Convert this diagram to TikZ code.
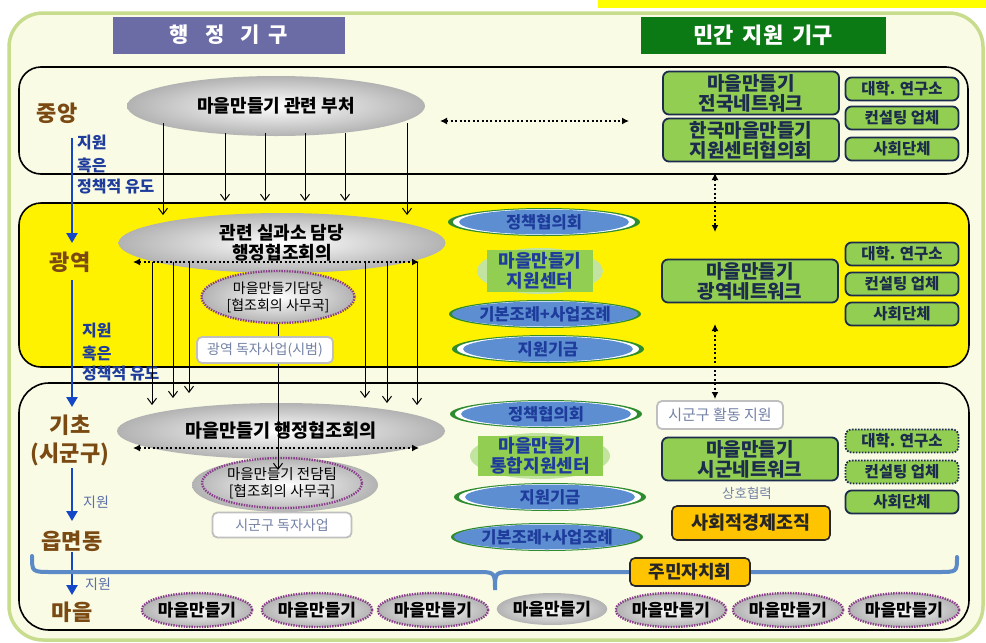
\documentclass[tikz,border=0pt]{standalone}
\usepackage{fontspec}
\setmainfont{Noto Sans CJK KR}
\usetikzlibrary{arrows.meta,shapes.geometric}
\definecolor{bgc}{HTML}{F9FBE4}
\definecolor{bgborder}{HTML}{C8DC8E}
\definecolor{hpurple}{HTML}{6B6BA6}
\definecolor{hgreen}{HTML}{0C7A14}
\definecolor{lbrown}{HTML}{7A4A12}
\definecolor{abblue}{HTML}{1446C8}
\definecolor{tblue}{HTML}{1E3C9C}
\definecolor{sblue}{HTML}{5A6EA8}
\definecolor{pur}{HTML}{8A3C8C}
\definecolor{egreen}{HTML}{2E8B2E}
\definecolor{eblue}{HTML}{5E8ED2}
\definecolor{boxgreen}{HTML}{92CE52}
\definecolor{navy}{HTML}{1C2C4C}
\definecolor{gold}{HTML}{FFC400}
\definecolor{gtext}{HTML}{7482A6}
\definecolor{bracec}{HTML}{5C8AC6}
\definecolor{topyel}{HTML}{FFFF00}
\newcommand\fsz[2]{\fontsize{#1}{#2}\selectfont}
\newcommand\BEll[3]{%
  \node[ellipse, fill=egreen, minimum width=192pt, minimum height=28pt, inner sep=0pt] (#1o) at #2 {};
  \node[ellipse, fill=white, minimum width=182pt, minimum height=26pt, inner sep=0pt] (#1w) at #2 {};
  \node[ellipse, fill=eblue, minimum width=170pt, minimum height=25pt, inner sep=0pt,
        font=\bfseries\fsz{16.5}{18}, text=tblue] (#1) at #2 {#3};}
\begin{document}
\begin{tikzpicture}[x=1pt,y=-1pt,
  lvl/.style={font=\bfseries\fsz{22}{24}, text=lbrown, inner sep=0pt},
  btxt/.style={font=\bfseries\fsz{16}{18}, text=tblue, anchor=west, inner sep=0pt},
  stxt/.style={font=\fsz{14}{16}, text=sblue, anchor=west, inner sep=0pt},
  barr/.style={draw=abblue, line width=2.6pt, -{Triangle[length=10pt,width=11pt]}},
  gell/.style={ellipse, shading=radial, inner color=white, outer color=black!30, inner sep=0pt},
  pell/.style={ellipse, draw=pur, line width=2.4pt, dash pattern=on 1.4pt off 1.2pt, inner sep=0pt},
  karr/.style={line width=1pt, -{Straight Barb[length=6pt,width=9pt]}},
  darr/.style={line width=2.2pt, dash pattern=on 2pt off 2.4pt,
     {Latex[length=7pt,width=7pt]}-{Latex[length=7pt,width=7pt]}},
  gbox/.style={draw=navy, line width=1.8pt, fill=boxgreen, rounded corners=6pt,
     font=\bfseries\fsz{19}{20}, text=navy, align=center, inner sep=0pt},
  sbox/.style={gbox, font=\bfseries\fsz{15.5}{17}, minimum width=113pt, minimum height=23pt},
  wbox/.style={draw=black!25, line width=1.8pt, fill=white, rounded corners=5pt,
     text=gtext, font=\fsz{14}{16}, inner sep=0pt},
  goldbox/.style={draw=black!85, line width=1.6pt, fill=gold, rounded corners=5pt,
     font=\bfseries\fsz{18.5}{20}, text=black!85, inner sep=0pt},
  ctrbox/.style={fill=boxgreen, font=\bfseries\fsz{18}{20}, text=tblue, align=center, inner sep=0pt},
  vtxt/.style={font=\bfseries\fsz{17}{19}, text=black, inner sep=0pt}
]
\useasboundingbox (0,0) rectangle (986,643);
\fill[white] (0,0) rectangle (986,643);
\fill[topyel] (598,0) rectangle (986,8);
% background
\draw[draw=bgborder, line width=3.5pt, fill=bgc, rounded corners=34pt] (9,13) rectangle (983,640);
% headers
\node[fill=hpurple, minimum width=232pt, minimum height=37pt, text=white, font=\bfseries\fsz{21}{23}] (hdrA) at (229,35) {행\hspace{16pt}정\hspace{16pt}기\hspace{9pt}구};
\node[fill=hgreen, minimum width=245pt, minimum height=37pt, text=white, font=\bfseries\fsz{22}{24}] (hdrB) at (763,35) {민간\hspace{9pt}지원\hspace{9pt}기구};
% bands
\draw[line width=1.6pt, rounded corners=22pt] (19,67) rectangle (968,174);
\draw[line width=1.6pt, fill=yellow, rounded corners=22pt] (19,203) rectangle (969,367);
\draw[line width=1.6pt, rounded corners=30pt] (19,383) rectangle (969,630);

% left level labels
\node[lvl] (Lc) at (57,113) {중앙};
\node[lvl] (Lg) at (70,262) {광역};
\node[lvl] (Lk1) at (70,425) {기초};
\node[lvl] (Lk2) at (70,454) {(시군구)};
\node[lvl] (Le) at (72,541) {읍면동};
\node[lvl] (Lm) at (72,612) {마을};
\coordinate (ba1) at (72,138); \coordinate (bb1) at (72,243);
\coordinate (ba2) at (72,280); \coordinate (bb2) at (72,407);
\coordinate (ba3) at (72,468); \coordinate (bb3) at (72,521);
\coordinate (ba4) at (72,552); \coordinate (bb4) at (72,595);
\draw[barr] (ba1) -- (bb1);
\draw[barr] (ba2) -- (bb2);
\draw[barr] (ba3) -- (bb3);
\draw[barr] (ba4) -- (bb4);
\node[btxt] (t1a) at (77,143) {지원};
\node[btxt] (t1b) at (77,165) {혹은};
\node[btxt] (t1c) at (77,187) {정책적 유도};
\node[btxt] (t2a) at (82,331) {지원};
\node[btxt] (t2b) at (82,353) {혹은};
\node[btxt] (t2c) at (82,374) {정책적 유도};
\node[stxt] (t3) at (83,502) {지원};
\node[stxt] (t4) at (85,584) {지원};

% administrative ellipses
\node[gell, minimum width=298pt, minimum height=60pt, vtxt, font=\bfseries\fsz{18}{20}] (bucheo) at (276,106) {마을만들기 관련 부처};
\node[gell, minimum width=327pt, minimum height=60pt, font=\bfseries\fsz{18}{20}, align=center] (silgwa) at (282,243) {관련 실과소 담당\\행정협조회의};
\node[gell, pell, minimum width=153pt, minimum height=52pt, font=\fsz{14}{17}, align=center] (samu1) at (278,297) {마을만들기담당\\{[}협조회의 사무국{]}};
\node[gell, minimum width=328pt, minimum height=56pt, font=\bfseries\fsz{18.5}{21}] (haengjeong) at (281,431) {마을만들기 행정협조회의};
\node[gell, minimum width=186pt, minimum height=54pt] (jeondamg) at (285,485) {};
\node[pell, minimum width=160pt, minimum height=50pt, font=\fsz{14.5}{16.5}, align=center] (jeondam) at (282,483) {마을만들기 전담팀\\{[}협조회의 사무국{]}};

% arrows from 부처
\foreach \x/\ys/\ye [count=\i] in {163/123/215, 225/133/201, 265/133/201, 305/133/201, 345/133/201, 407/123/215}{
  \coordinate (ua\i) at (\x,\ys); \coordinate (ub\i) at (\x,\ye);
  \draw[karr] (ua\i) -- (ub\i);
}
% arrows from 광역 to 기초
\foreach \x/\ye [count=\i] in {152/405, 173/398, 189/393, 365/398, 387/403, 417/405}{
  \coordinate (ma\i) at (\x,262); \coordinate (mb\i) at (\x,\ye);
  \draw[karr] (ma\i) -- (mb\i);
}
\coordinate (samuEnd) at (278,470);
\draw[karr] (samu1.south) -- (samuEnd);
% dotted double arrows inside ellipses
\coordinate (dl1) at (133,262); \coordinate (dr1) at (419,262);
\draw[darr] (dl1) -- (dr1);
\coordinate (dl2) at (133,448); \coordinate (dr2) at (419,448);
\draw[darr] (dl2) -- (dr2);

% white boxes
\node[wbox, minimum width=136pt, minimum height=26pt] (dokja1) at (265,350) {광역 독자사업(시범)};
\node[wbox, minimum width=139pt, minimum height=25pt] (dokja2) at (282,525) {시군구 독자사업};

% middle column, 광역
\BEll{pcA}{(544,222)}{정책협의회}
\node[ellipse, fill=boxgreen!55!white, minimum width=126pt, minimum height=46pt] (ctrAg) at (540,271) {};
\node[ctrbox, minimum width=106pt, minimum height=42pt] (ctrA) at (540,271) {마을만들기\\지원센터};
\BEll{jrA}{(545,314)}{기본조례+사업조례}
\BEll{fdA}{(548,349)}{지원기금}
% middle column, 기초
\BEll{pcB}{(546,414)}{정책협의회}
\node[ellipse, fill=boxgreen!55!white, minimum width=140pt, minimum height=46pt] (ctrBg) at (540,456) {};
\node[ctrbox, minimum width=125pt, minimum height=40pt] (ctrB) at (540,456) {마을만들기\\통합지원센터};
\BEll{fdB}{(550,497)}{지원기금}
\BEll{jrB}{(547,537)}{기본조례+사업조례}

% private column
\node[gbox, minimum width=176pt, minimum height=43pt] (natnet) at (751,93) {마을만들기\\전국네트워크};
\node[gbox, minimum width=176pt, minimum height=43pt] (korcen) at (751,140) {한국마을만들기\\지원센터협의회};
\node[sbox] (uniA) at (902,89) {대학. 연구소};
\node[sbox] (conA) at (902,118) {컨설팅 업체};
\node[sbox] (socA) at (902,149) {사회단체};

\node[gbox, minimum width=176pt, minimum height=43pt] (regnet) at (750,281) {마을만들기\\광역네트워크};
\node[sbox] (uniB) at (902,254) {대학. 연구소};
\node[sbox] (conB) at (902,284) {컨설팅 업체};
\node[sbox] (socB) at (902,314) {사회단체};

\node[wbox, minimum width=126pt, minimum height=28pt, font=\fsz{15}{16}] (sgsup) at (720,415) {시군구 활동 지원};
\node[gbox, minimum width=176pt, minimum height=43pt] (sgnet) at (750,459) {마을만들기\\시군네트워크};
\node[font=\fsz{13.5}{15}, text=gtext, inner sep=0pt] (sangho) at (747,493) {상호협력};
\node[goldbox, minimum width=158pt, minimum height=34pt] (soceco) at (751,523) {사회적경제조직};
\node[sbox, dash pattern=on 1.6pt off 1.4pt] (uniC) at (902,441) {대학. 연구소};
\node[sbox, dash pattern=on 1.6pt off 1.4pt] (conC) at (902,472) {컨설팅 업체};
\node[sbox] (socC) at (902,502) {사회단체};

% dotted connectors to private side
\coordinate (hL) at (440,121); \coordinate (hR) at (629,121);
\draw[darr] (hL) -- (hR);
\coordinate (v1a) at (715,173); \coordinate (v1b) at (715,232);
\draw[darr] (v1a) -- (v1b);
\coordinate (v2a) at (715,324); \coordinate (v2b) at (715,399);
\draw[darr] (v2a) -- (v2b);

% brace
\draw[bracec, line width=4pt, line cap=round]
  (32,556) .. controls (32,572) .. (52,572) -- (476,572) .. controls (495,572) .. (495,590)
  .. controls (495,572) .. (514,572) -- (938,572) .. controls (957,572) .. (957,557);
\node[goldbox, minimum width=120pt, minimum height=28pt, font=\bfseries\fsz{18}{20}] (jumin) at (690,572) {주민자치회};

% village ellipses
\foreach \x [count=\i] in {197,317,433}{
  \node[gell, pell, minimum width=108pt, minimum height=34pt, vtxt] (vil\i) at (\x,610) {마을만들기};
}
\node[gell, minimum width=108pt, minimum height=32pt, vtxt] (vil4) at (552,609) {마을만들기};
\foreach \x [count=\i from 5] in {671,788,904}{
  \node[gell, pell, minimum width=108pt, minimum height=34pt, vtxt] (vil\i) at (\x,610) {마을만들기};
}
\end{tikzpicture}
\end{document}
